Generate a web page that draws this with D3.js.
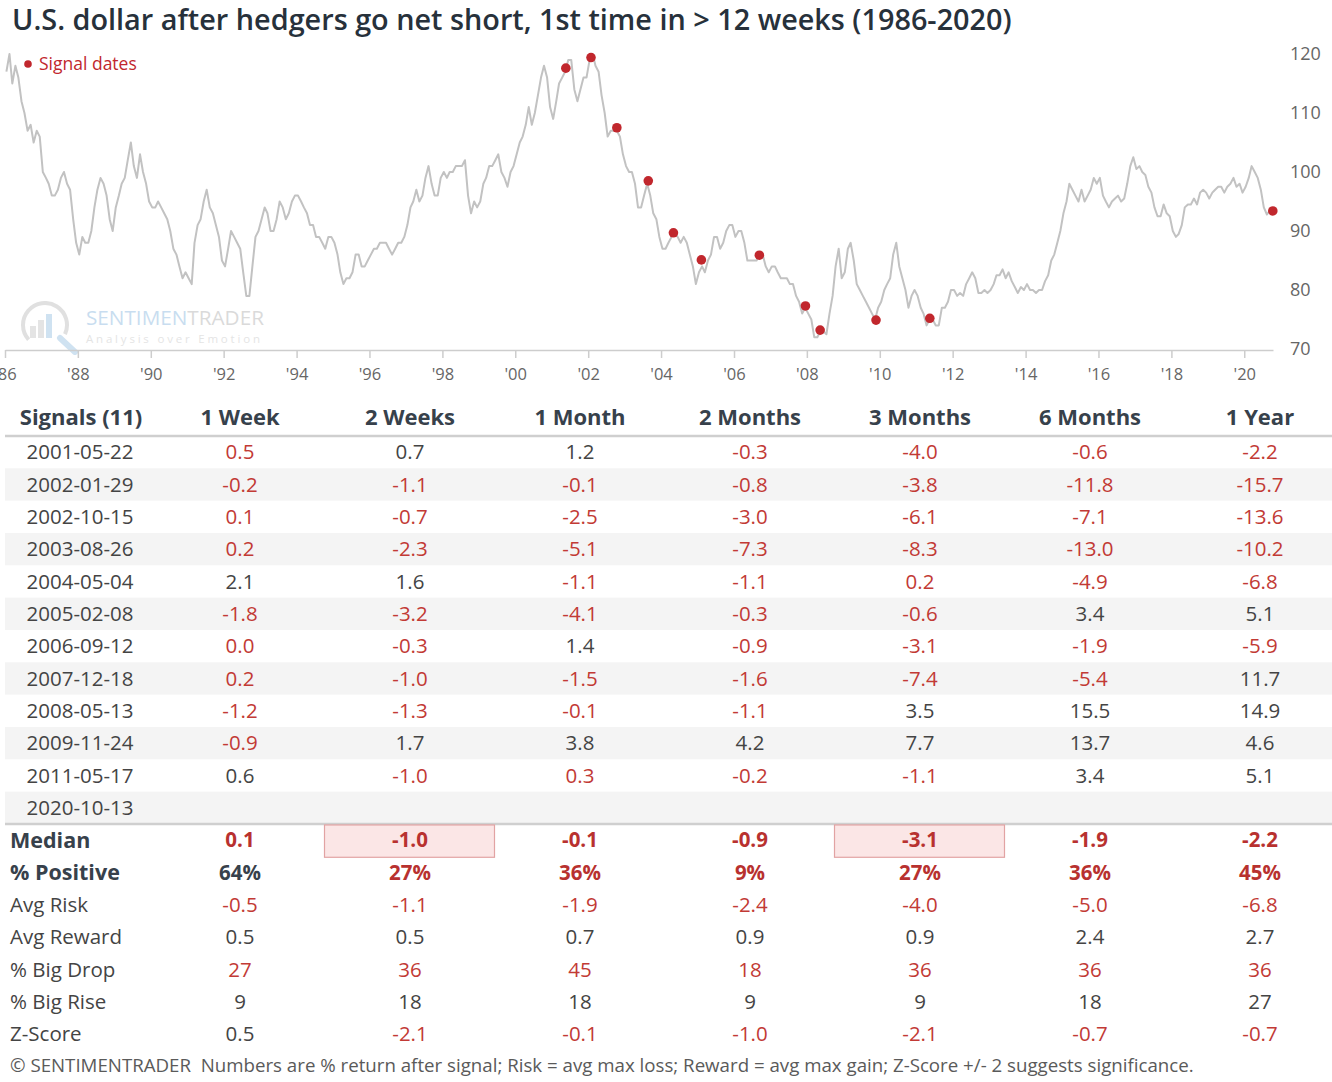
<!DOCTYPE html>
<html>
<head>
<meta charset="utf-8">
<script src="https://cdn.jsdelivr.net/npm/d3@7"></script>
<style>
  body { margin: 0; background: #fff; }
  text { font-family: "Open Sans", sans-serif; }
</style>
</head>
<body>
<div id="chart"></div>
<script>
// U.S. dollar index, monthly readings, Jan 1986 .. Oct 2020
const dxyMonthly = [
  117, 120, 115, 118, 116, 112, 110, 107, 108, 105, 107, 106, // 1986
  100, 99, 98, 96, 96, 97, 99, 100, 98, 97, 92, 88,           // 1987
  86, 89, 88, 88, 90, 94, 97, 99, 98, 96, 92, 90,             // 1988
  94, 96, 98, 99, 102, 105, 101, 99, 103, 100, 98, 95,        // 1989
  94, 94, 95, 94, 93, 92, 90, 87, 86, 84, 82, 83,             // 1990
  82, 81, 88, 91, 92, 95, 97, 94, 93, 91, 89, 85,             // 1991
  84, 87, 90, 89, 88, 87, 83, 79, 79, 84, 89, 90,             // 1992
  92, 94, 93, 90, 90, 92, 95, 94, 92, 93, 95, 96,             // 1993
  96, 95, 94, 93, 91, 91, 89, 89, 88, 87, 89, 89,             // 1994
  88, 86, 83, 81, 82, 82, 83, 86, 86, 84, 84, 85,             // 1995
  86, 87, 87, 88, 88, 88, 87, 86, 87, 88, 88, 89,             // 1996
  91, 94, 95, 97, 95, 96, 99, 101, 98, 96, 96, 99,            // 1997
  100, 99, 100, 100, 101, 101, 101, 102, 96, 93, 95, 94,      // 1998
  95, 98, 99, 101, 101, 102, 103, 100, 99, 97.5, 100, 101,    // 1999
  103, 105, 106, 108, 111, 108, 110, 113, 116, 118, 116, 111, // 2000
  109, 112, 115, 116, 117, 119, 119, 114, 112, 114, 116, 116, // 2001
  119, 120, 118, 117, 113, 110, 106, 107, 107, 107, 106, 103, // 2002
  101, 100, 100, 98, 94, 94, 96, 98, 96, 93, 92, 89,          // 2003
  87, 87, 88, 89, 90, 89, 88, 89, 88, 86, 84, 81,             // 2004
  83, 84, 83, 85, 86, 89, 89, 87, 88, 90, 91, 91,             // 2005
  89, 90, 90, 88, 85, 85, 85, 85, 86, 86, 84, 83,             // 2006
  84, 84, 83, 82, 82, 82, 81, 81, 79, 78, 76, 77,             // 2007
  76, 75, 72, 72, 73, 73, 72.5, 76, 79, 84, 87, 82,           // 2008
  83, 87, 88, 85, 81, 80, 79, 78, 77, 76, 75, 77,             // 2009
  78, 80, 81, 82, 86, 88, 84, 82, 80, 77, 79, 80,             // 2010
  79, 77, 76, 74, 75, 75, 74, 74, 77, 77, 78, 80,             // 2011
  80, 79, 79.5, 79, 81, 82, 83, 82, 79.5, 79.5, 80, 79.5,     // 2012
  80, 81, 82.5, 82.5, 83.5, 82, 83, 81.5, 80.5, 79.5, 80.5, 80, // 2013
  81, 80, 80, 79.5, 80, 80, 81.5, 82.5, 85, 86, 88, 90,       // 2014
  93, 95, 98, 97, 96, 95, 97, 95, 96, 97, 99, 98,             // 2015
  99, 96, 95, 94, 95, 95.5, 96, 95, 95.5, 98, 101, 102.5,     // 2016
  100.5, 101, 100, 99.5, 97.5, 96.5, 94, 92.5, 92.5, 94.5, 93, 92.5, // 2017
  90, 89, 89.5, 91, 94, 94.5, 94.5, 95.5, 94.5, 96.5, 97, 96.5, // 2018
  95.5, 96.5, 97, 97.5, 97.5, 96.5, 97.5, 98, 99, 97.5, 98, 96.5, // 2019
  97.5, 99, 101, 100, 99, 97, 94, 92.8, 93.5, 93.4            // 2020
];
const firstYear = 1986;

const signalDates = ["2001-05-22", "2002-01-29", "2002-10-15", "2003-08-26", "2004-05-04", "2005-02-08",
  "2006-09-12", "2007-12-18", "2008-05-13", "2009-11-24", "2011-05-17", "2020-10-13"];
const signalLevels = [117.6, 119.4, 107.5, 98.5, 89.7, 85.1, 85.9, 77.3, 73.2, 74.9, 75.2, 93.4];

const horizons = ["1 Week", "2 Weeks", "1 Month", "2 Months", "3 Months", "6 Months", "1 Year"];
const forwardReturns = [
  [0.5, 0.7, 1.2, -0.3, -4.0, -0.6, -2.2],
  [-0.2, -1.1, -0.1, -0.8, -3.8, -11.8, -15.7],
  [0.1, -0.7, -2.5, -3.0, -6.1, -7.1, -13.6],
  [0.2, -2.3, -5.1, -7.3, -8.3, -13.0, -10.2],
  [2.1, 1.6, -1.1, -1.1, 0.2, -4.9, -6.8],
  [-1.8, -3.2, -4.1, -0.3, -0.6, 3.4, 5.1],
  [0.0, -0.3, 1.4, -0.9, -3.1, -1.9, -5.9],
  [0.2, -1.0, -1.5, -1.6, -7.4, -5.4, 11.7],
  [-1.2, -1.3, -0.1, -1.1, 3.5, 15.5, 14.9],
  [-0.9, 1.7, 3.8, 4.2, 7.7, 13.7, 4.6],
  [0.6, -1.0, 0.3, -0.2, -1.1, 3.4, 5.1],
  []
];
// typical return for each horizon; values below it are shown in red
const typicalReturn = [0.55, 0.2, 0.8, 1.0, 1.5, 2.0, 3.0];

const summaryLabels = ["Median", "% Positive", "Avg Risk", "Avg Reward", "% Big Drop", "% Big Rise", "Z-Score"];
const medianReturn = [0.1, -1.0, -0.1, -0.9, -3.1, -1.9, -2.2];
const pctPositive = [64, 27, 36, 9, 27, 36, 45];
const avgRisk = [-0.5, -1.1, -1.9, -2.4, -4.0, -5.0, -6.8];
const avgReward = [0.5, 0.5, 0.7, 0.9, 0.9, 2.4, 2.7];
const pctBigDrop = [27, 36, 45, 18, 36, 36, 36];
const pctBigRise = [9, 18, 18, 9, 9, 18, 27];
const zScore = [0.5, -2.1, -0.1, -1.0, -2.1, -0.7, -0.7];

const RED = "#c23a35", DARK = "#444", HEAD = "#37414b";

const W = 1332, H = 1082;
const svg = d3.select("#chart").append("svg")
  .attr("width", W).attr("height", H)
  .style("background", "#fff");

// shrink/grow a text's font so it spans the given width
function fitWidth(sel, target) {
  const w = sel.node().getComputedTextLength();
  sel.attr("font-size", +sel.attr("font-size") * target / w);
}

// title
const title = svg.append("text")
  .attr("x", 12).attr("y", 30)
  .attr("font-size", 27)
  .attr("font-weight", 600)
  .attr("fill", "#27313b")
  .text("U.S. dollar after hedgers go net short, 1st time in > 12 weeks (1986-2020)");
fitWidth(title, 1000);

// ---------- line chart ----------
const series = dxyMonthly.map((v, i) => ({
  date: new Date(firstYear + Math.floor(i / 12), i % 12, 15),
  value: v
}));
const signals = signalDates.map((d, i) => ({ date: d3.timeParse("%Y-%m-%d")(d), value: signalLevels[i] }));

const x = d3.scaleTime()
  .domain([new Date(1986, 0, 1), new Date(2020, 9, 15)])
  .range([5, 1273]);
const y = d3.scaleLinear().domain([70, 120]).range([349, 54]);

// watermark
const wm = svg.append("g").attr("opacity", 0.55);
wm.append("path")
  .attr("d", d3.arc()({ innerRadius: 20, outerRadius: 24, startAngle: -2.3, endAngle: 2.0 }))
  .attr("transform", "translate(45,325)")
  .attr("fill", "#c8c8c8");
[[30, 12], [38, 18], [46, 24]].forEach(([bx, bh]) => {
  wm.append("rect").attr("x", bx).attr("y", 338 - bh).attr("width", 6).attr("height", bh)
    .attr("fill", bx === 46 ? "#a9cbe6" : "#cfcfcf");
});
wm.append("line").attr("x1", 60).attr("y1", 338).attr("x2", 75).attr("y2", 352)
  .attr("stroke", "#a9cbe6").attr("stroke-width", 6).attr("stroke-linecap", "round");
const wmt = wm.append("text").attr("x", 86).attr("y", 325).attr("font-size", 21);
wmt.append("tspan").attr("fill", "#9cc3e4").text("SENTIMEN");
wmt.append("tspan").attr("fill", "#bdbdbd").text("TRADER");
fitWidth(wmt, 178);
wm.append("text").attr("x", 86).attr("y", 343).attr("font-size", 11.5)
  .attr("letter-spacing", 2.8).attr("fill", "#cfcfcf").text("Analysis over Emotion");

// x axis
const xAxis = d3.axisBottom(x)
  .ticks(d3.timeYear.every(2))
  .tickFormat(d3.timeFormat("'%y"))
  .tickSize(8).tickSizeOuter(0);
const gx = svg.append("g").attr("transform", "translate(0,350)").call(xAxis);
gx.select(".domain").attr("stroke", "#cdcdcd").attr("stroke-width", 1.5);
gx.selectAll(".tick line").attr("stroke", "#cdcdcd").attr("stroke-width", 1.5);
gx.selectAll(".tick text").attr("fill", "#666").attr("font-size", 16.5)
  .attr("font-family", "Open Sans").attr("dy", "1.15em");

// y axis (labels only, on the right)
const gy = svg.append("g").attr("transform", "translate(1290,0)")
  .call(d3.axisRight(y).tickValues(d3.range(70, 121, 10)).tickSize(0));
gy.select(".domain").remove();
gy.selectAll(".tick text").attr("x", 0).attr("fill", "#666")
  .attr("font-size", 18).attr("font-family", "Open Sans");

// price line
svg.append("path")
  .datum(series)
  .attr("fill", "none")
  .attr("stroke", "#c2c2c2")
  .attr("stroke-width", 2)
  .attr("stroke-linejoin", "round")
  .attr("d", d3.line().x(d => x(d.date)).y(d => y(d.value)));

// signal dots
svg.append("g").selectAll("circle")
  .data(signals)
  .join("circle")
  .attr("cx", d => x(d.date))
  .attr("cy", d => y(d.value))
  .attr("r", 4.8)
  .attr("fill", "#c1272d");

// legend
svg.append("circle").attr("cx", 28).attr("cy", 64).attr("r", 3.8).attr("fill", "#c1272d");
svg.append("text").attr("x", 39).attr("y", 70).attr("font-size", 17.5)
  .attr("fill", "#c1272d").text("Signal dates");

// ---------- table ----------
const col = d3.scaleBand().domain(horizons).range([155, 1345]);
const rowIdx = d3.range(signalDates.length + summaryLabels.length);
const row = d3.scaleBand().domain(rowIdx).range([436, 436 + rowIdx.length * 32.33]);
const rowY = i => row(i) + row.bandwidth() / 2;
const labelX = 80;

// stripes
svg.append("g").selectAll("rect")
  .data(signalDates.map((d, i) => i).filter(i => i % 2 === 1))
  .join("rect")
  .attr("x", 5).attr("width", W - 5)
  .attr("y", i => row(i)).attr("height", row.bandwidth())
  .attr("fill", "#f4f4f4");

// header
const head = svg.append("g").attr("font-weight", 700).attr("font-size", 22)
  .attr("fill", HEAD).attr("text-anchor", "middle");
head.append("text").attr("x", labelX + 1).attr("y", 425).text(`Signals (${signalDates.length - 1})`);
head.selectAll("text.h").data(horizons).join("text").attr("class", "h")
  .attr("x", h => col(h) + col.bandwidth() / 2).attr("y", 425).text(h => h);

svg.append("line").attr("x1", 5).attr("x2", W).attr("y1", 436).attr("y2", 436)
  .attr("stroke", "#cfcfcf").attr("stroke-width", 2.5);
svg.append("line").attr("x1", 5).attr("x2", W).attr("y1", row(signalDates.length)).attr("y2", row(signalDates.length))
  .attr("stroke", "#cfcfcf").attr("stroke-width", 2.5);

// highlighted medians (|z| >= 2)
svg.append("g").selectAll("rect")
  .data(horizons.filter((h, j) => Math.abs(zScore[j]) >= 2))
  .join("rect")
  .attr("x", h => col(h) - 0.5).attr("width", col.bandwidth())
  .attr("y", row(signalDates.length) + 1).attr("height", row.bandwidth())
  .attr("fill", "#fbe6e6").attr("stroke", "#e2a3a3").attr("stroke-width", 1.2);

const fmt = v => v.toFixed(1);
const body = svg.append("g").attr("font-size", 20.5).attr("text-anchor", "middle");

// signal rows
signalDates.forEach((d, i) => {
  body.append("text").attr("x", labelX).attr("y", rowY(i)).attr("dy", "0.35em")
    .attr("fill", DARK).text(d);
  forwardReturns[i].forEach((v, j) => {
    body.append("text")
      .attr("x", col(horizons[j]) + col.bandwidth() / 2).attr("y", rowY(i)).attr("dy", "0.35em")
      .attr("fill", v < typicalReturn[j] ? RED : DARK)
      .text(fmt(v));
  });
});

// summary rows
const summaryRows = [
  { vals: medianReturn, bold: true, text: fmt, red: (v, j) => v < typicalReturn[j] },
  { vals: pctPositive, bold: true, text: v => v + "%", red: v => v < 50 },
  { vals: avgRisk, text: fmt, red: () => true },
  { vals: avgReward, text: fmt, red: () => false },
  { vals: pctBigDrop, text: v => v, red: () => true },
  { vals: pctBigRise, text: v => v, red: () => false },
  { vals: zScore, text: fmt, red: v => v < 0 }
];
summaryRows.forEach((r, k) => {
  const i = signalDates.length + k;
  body.append("text").attr("x", 10).attr("y", rowY(i)).attr("dy", "0.35em")
    .attr("text-anchor", "start")
    .attr("font-weight", r.bold ? 700 : 400)
    .attr("font-size", r.bold ? 21.5 : 20.5)
    .attr("fill", r.bold ? HEAD : DARK)
    .text(summaryLabels[k]);
  r.vals.forEach((v, j) => {
    body.append("text")
      .attr("x", col(horizons[j]) + col.bandwidth() / 2).attr("y", rowY(i)).attr("dy", "0.35em")
      .attr("font-weight", r.bold ? 700 : 400)
      .attr("fill", r.red(v, j) ? (r.bold ? "#b8312f" : RED) : (r.bold ? HEAD : DARK))
      .text(r.text(v));
  });
});

// footer
const foot = svg.append("text").attr("x", 10).attr("y", 1072).attr("font-size", 17).attr("fill", "#5a5a5a")
  .style("white-space", "pre")
  .text("© SENTIMENTRADER  Numbers are % return after signal; Risk = avg max loss; Reward = avg max gain; Z-Score +/- 2 suggests significance.");
fitWidth(foot, 1185);
</script>
</body>
</html>
